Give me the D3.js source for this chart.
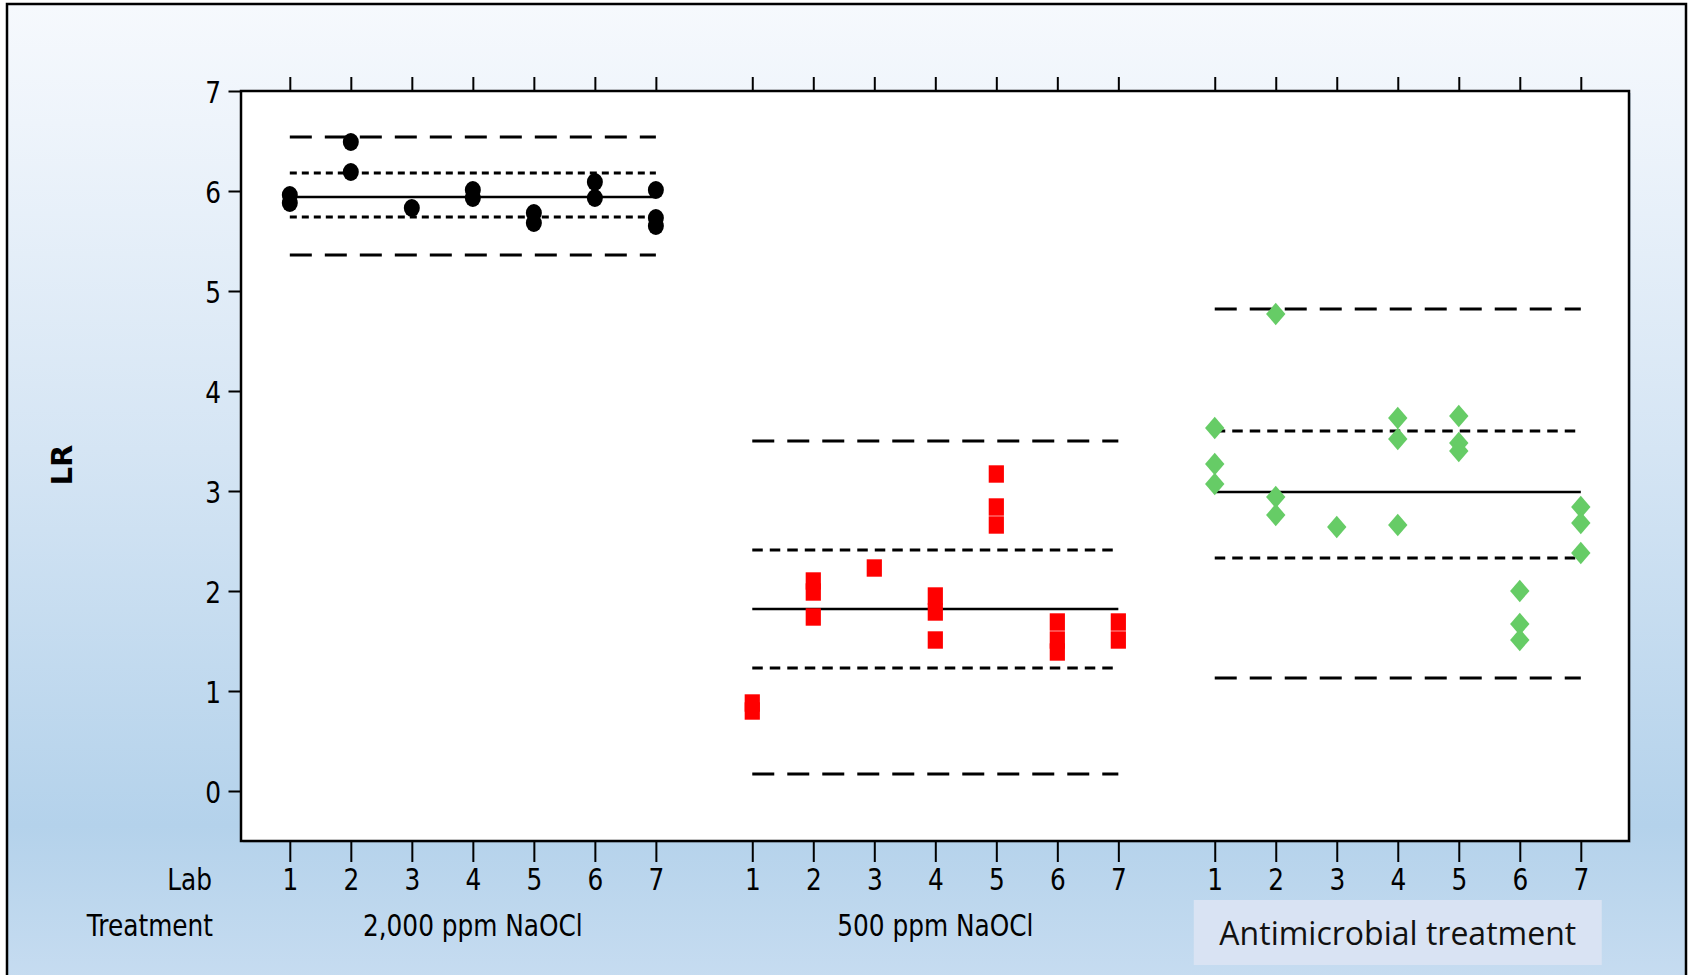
<!DOCTYPE html>
<meta charset="utf-8">
<script src="https://cdn.jsdelivr.net/npm/d3@7"></script>
<style>
  body { margin: 0; background: #fff; }
  svg { display: block; }
</style>
<body>
<script>

var width = 1689
var height = 975

// lab numbers and treatments
var labs = [1, 2, 3, 4, 5, 6, 7]
var treatments = ["2,000 ppm NaOCl", "500 ppm NaOCl", "Antimicrobial treatment"]
var yTicks = [0, 1, 2, 3, 4, 5, 6, 7]

// LR per lab, [lab, LR]
var naocl2000 = [[1, 5.96], [1, 5.88], [2, 6.49], [2, 6.19], [3, 5.83], [4, 6.01], [4, 5.93],
                 [5, 5.78], [5, 5.68], [6, 6.09], [6, 5.93], [7, 6.01], [7, 5.73], [7, 5.65]]
var naocl500 = [[1, 0.88], [1, 0.80], [2, 2.10], [2, 1.99], [2, 1.74], [3, 2.23], [4, 1.95], [4, 1.79],
                [4, 1.51], [5, 3.17], [5, 2.84], [5, 2.66], [6, 1.69], [6, 1.51], [6, 1.39], [7, 1.69], [7, 1.51]]
var antimicrobial = [[1, 3.63], [1, 3.27], [1, 3.07], [2, 4.77], [2, 2.94], [2, 2.76], [3, 2.64],
                     [4, 3.73], [4, 3.52], [4, 2.66], [5, 3.75], [5, 3.48], [5, 3.40],
                     [6, 2.00], [6, 1.67], [6, 1.51], [7, 2.84], [7, 2.68], [7, 2.38]]

// mean and limit lines per treatment
var means = [5.94, 1.82, 2.99]
var innerLimits = [[5.74, 6.18], [1.23, 2.41], [2.33, 3.60]]
var outerLimits = [[5.36, 6.54], [0.17, 3.50], [1.13, 4.82]]

var groupStep = 7.58
function pos(g, lab) { return g * groupStep + (lab - 1) }

var x = d3.scaleLinear().domain([-0.8, 21.95]).range([241, 1629])
var y = d3.scaleLinear().domain([-0.5, 7]).range([841, 91])

var svg = d3.select("body").append("svg")
            .attr("width", width)
            .attr("height", height)

var grad = svg.append("defs").append("linearGradient")
              .attr("id", "bg").attr("x1", 0).attr("x2", 0).attr("y1", 0).attr("y2", 1)
grad.append("stop").attr("offset", "0%").attr("stop-color", "#f6f9fd")
grad.append("stop").attr("offset", "12%").attr("stop-color", "#eef4fb")
grad.append("stop").attr("offset", "45%").attr("stop-color", "#d5e5f4")
grad.append("stop").attr("offset", "83%").attr("stop-color", "#b4d2eb")
grad.append("stop").attr("offset", "100%").attr("stop-color", "#c8ddf1")

// outer frame
svg.append("rect")
   .attr("x", 7).attr("y", 4).attr("width", 1679).attr("height", 990)
   .attr("fill", "url(#bg)").attr("stroke", "#000").attr("stroke-width", 2.5)

// plot area
svg.append("rect")
   .attr("x", x.range()[0] + 2).attr("y", y.range()[1] + 2)
   .attr("width", x.range()[1] - x.range()[0]).attr("height", y.range()[0] - y.range()[1])
   .attr("fill", "#9fb4c8").attr("opacity", 0.5)
svg.append("rect")
   .attr("x", x.range()[0]).attr("y", y.range()[1])
   .attr("width", x.range()[1] - x.range()[0]).attr("height", y.range()[0] - y.range()[1])
   .attr("fill", "#fff").attr("stroke", "#000").attr("stroke-width", 2.5)

var sx = 0.8
var tickPositions = []
var tickLabels = []
treatments.forEach(function(t, g) {
  labs.forEach(function(l) { tickPositions.push(pos(g, l)); tickLabels.push(l) })
})

// axes
var yAxis = svg.append("g")
   .attr("transform", "translate(" + x.range()[0] + ",0)")
   .call(d3.axisLeft(y).tickValues(yTicks).tickSize(12.5).tickFormat(d3.format("d")))
yAxis.select(".domain").remove()
yAxis.selectAll("line").attr("stroke", "#000").attr("stroke-width", 2)
yAxis.selectAll("text")
     .attr("x", -20 / sx).attr("dy", "0.36em")
     .attr("transform", "scale(" + sx + ",1)")
     .style("font-family", "DejaVu Sans").style("font-size", "31px").attr("fill", "#000")

var bAxis = svg.append("g")
   .attr("transform", "translate(0," + y.range()[0] + ")")
   .call(d3.axisBottom(x).tickValues(tickPositions).tickSize(21)
           .tickFormat(function(d, i) { return tickLabels[i] }))
bAxis.select(".domain").remove()
bAxis.selectAll("line").attr("stroke", "#000").attr("stroke-width", 2)
bAxis.selectAll("text")
     .attr("y", 49).attr("dy", 0)
     .attr("transform", "scale(" + sx + ",1)")
     .attr("x", function() { return 0 })
     .style("font-family", "DejaVu Sans").style("font-size", "31px").attr("fill", "#000")

var tAxis = svg.append("g")
   .attr("transform", "translate(0," + y.range()[1] + ")")
   .call(d3.axisTop(x).tickValues(tickPositions).tickSize(14).tickFormat(""))
tAxis.select(".domain").remove()
tAxis.selectAll("line").attr("stroke", "#000").attr("stroke-width", 2)

function condText(tx, ty, anchor, str) {
  svg.append("text")
     .attr("x", tx / sx).attr("y", ty)
     .attr("transform", "scale(" + sx + ",1)")
     .attr("text-anchor", anchor)
     .style("font-family", "DejaVu Sans").style("font-size", "31px")
     .attr("fill", "#000")
     .text(str)
}

condText(212, 890, "end", "Lab")
condText(213, 936, "end", "Treatment")
condText((x(pos(0, 1)) + x(pos(0, 7))) / 2, 936, "middle", treatments[0])
condText((x(pos(1, 1)) + x(pos(1, 7))) / 2, 936, "middle", treatments[1])

var c3 = (x(pos(2, 1)) + x(pos(2, 7))) / 2
svg.append("rect")
   .attr("x", c3 - 204).attr("y", 900).attr("width", 408).attr("height", 65)
   .attr("fill", "#d9e3f3")
svg.append("text")
   .attr("x", c3).attr("y", 945)
   .attr("text-anchor", "middle")
   .style("font-family", "Open Sans").style("font-size", "32px")
   .attr("fill", "#111")
   .text(treatments[2])

svg.append("text")
   .attr("transform", "translate(72,465) rotate(-90)")
   .attr("text-anchor", "middle")
   .style("font-family", "DejaVu Sans").style("font-weight", "bold").style("font-size", "29px")
   .text("LR")

// reference lines
var lines = svg.append("g")
function hline(g, v, dash, w) {
  lines.append("line")
       .attr("x1", x(pos(g, 1))).attr("x2", x(pos(g, 7)))
       .attr("y1", y(v)).attr("y2", y(v))
       .attr("stroke", "#000").attr("stroke-width", w)
       .attr("stroke-dasharray", dash)
}
treatments.forEach(function(t, g) {
  var shortDash = g == 0 ? "7,5" : "10.5,7"
  hline(g, outerLimits[g][0], "22,13", 3)
  hline(g, outerLimits[g][1], "22,13", 3)
  hline(g, innerLimits[g][0], shortDash, 3)
  hline(g, innerLimits[g][1], shortDash, 3)
  hline(g, means[g], null, 2.5)
})

// points
svg.append("g").selectAll("ellipse")
   .data(naocl2000).enter().append("ellipse")
   .attr("cx", function(d) { return x(pos(0, d[0])) })
   .attr("cy", function(d) { return y(d[1]) })
   .attr("rx", 8).attr("ry", 9)
   .attr("fill", "#000")

svg.append("g").selectAll("rect")
   .data(naocl500).enter().append("rect")
   .attr("x", function(d) { return x(pos(1, d[0])) - 7.6 })
   .attr("y", function(d) { return y(d[1]) - 8.7 })
   .attr("width", 15.2).attr("height", 17.4)
   .attr("fill", "#ff0000")

svg.append("g").selectAll("path")
   .data(antimicrobial).enter().append("path")
   .attr("d", function(d) {
     var cx = x(pos(2, d[0])), cy = y(d[1])
     return "M" + cx + "," + (cy - 11.2) + "L" + (cx + 9.7) + "," + cy +
            "L" + cx + "," + (cy + 11.2) + "L" + (cx - 9.7) + "," + cy + "Z"
   })
   .attr("fill", "#66cc66")

</script>
</body>
